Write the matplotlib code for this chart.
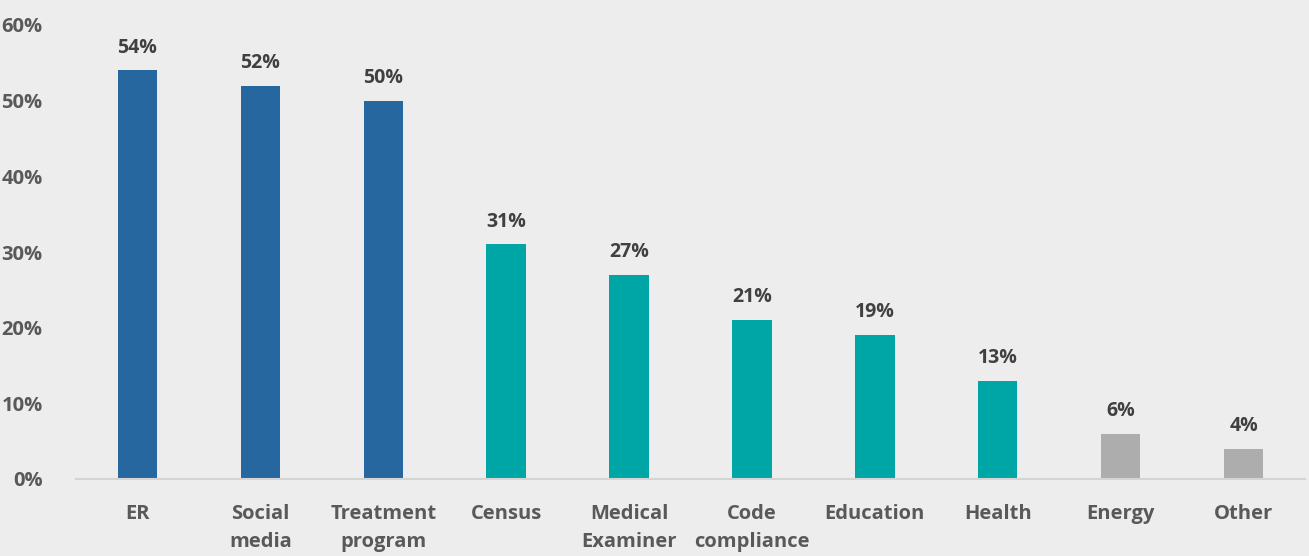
import matplotlib.pyplot as plt
import numpy as np

categories = ["ER", "Social\nmedia", "Treatment\nprogram", "Census", "Medical\nExaminer",
              "Code\ncompliance", "Education", "Health", "Energy", "Other"]
values = [54, 52, 50, 31, 27, 21, 19, 13, 6, 4]
groups = ["blue", "blue", "blue", "teal", "teal", "teal", "teal", "teal", "gray", "gray"]
yticks = [0, 10, 20, 30, 40, 50, 60]

palette = {"blue": "#27679F", "teal": "#00A5A5", "gray": "#ADADAD"}
bg = "#EDEDED"

plt.rcParams['font.family'] = ['Open Sans', 'DejaVu Sans']

fig = plt.figure(figsize=(13.09, 5.56), dpi=100, facecolor=bg)
ax = fig.add_axes([76 / 1309, 77 / 556, 1229 / 1309, 454 / 556], facecolor=bg)

x = np.arange(len(categories))
colors = [palette[g] for g in groups]
ax.bar(x, values, width=0.32, color=colors, zorder=2)

for xi, v in zip(x, values):
    ax.text(xi, v + 1.7, f"{v}%", ha="center", va="bottom", fontsize=14,
            fontweight="bold", color="#404040")

ax.set_xlim(-0.5, len(categories) - 0.5)
ax.set_ylim(0, 60)
ax.set_yticks(yticks)
ax.set_yticklabels([f"{t}%" for t in yticks], fontsize=14.5, fontweight="bold", color="#595959")
ax.set_xticks(x)
ax.set_xticklabels(categories, fontsize=14.5, fontweight="bold", color="#595959",
                   linespacing=1.55, va="top")
ax.tick_params(axis="both", length=0)
ax.tick_params(axis="x", pad=18)
ax.tick_params(axis="y", pad=24)

for s in ["top", "right", "left"]:
    ax.spines[s].set_visible(False)
ax.spines["bottom"].set_color("#D4D4D4")
ax.spines["bottom"].set_linewidth(1.5)

fig.savefig("out.png", dpi=100, facecolor=bg)
